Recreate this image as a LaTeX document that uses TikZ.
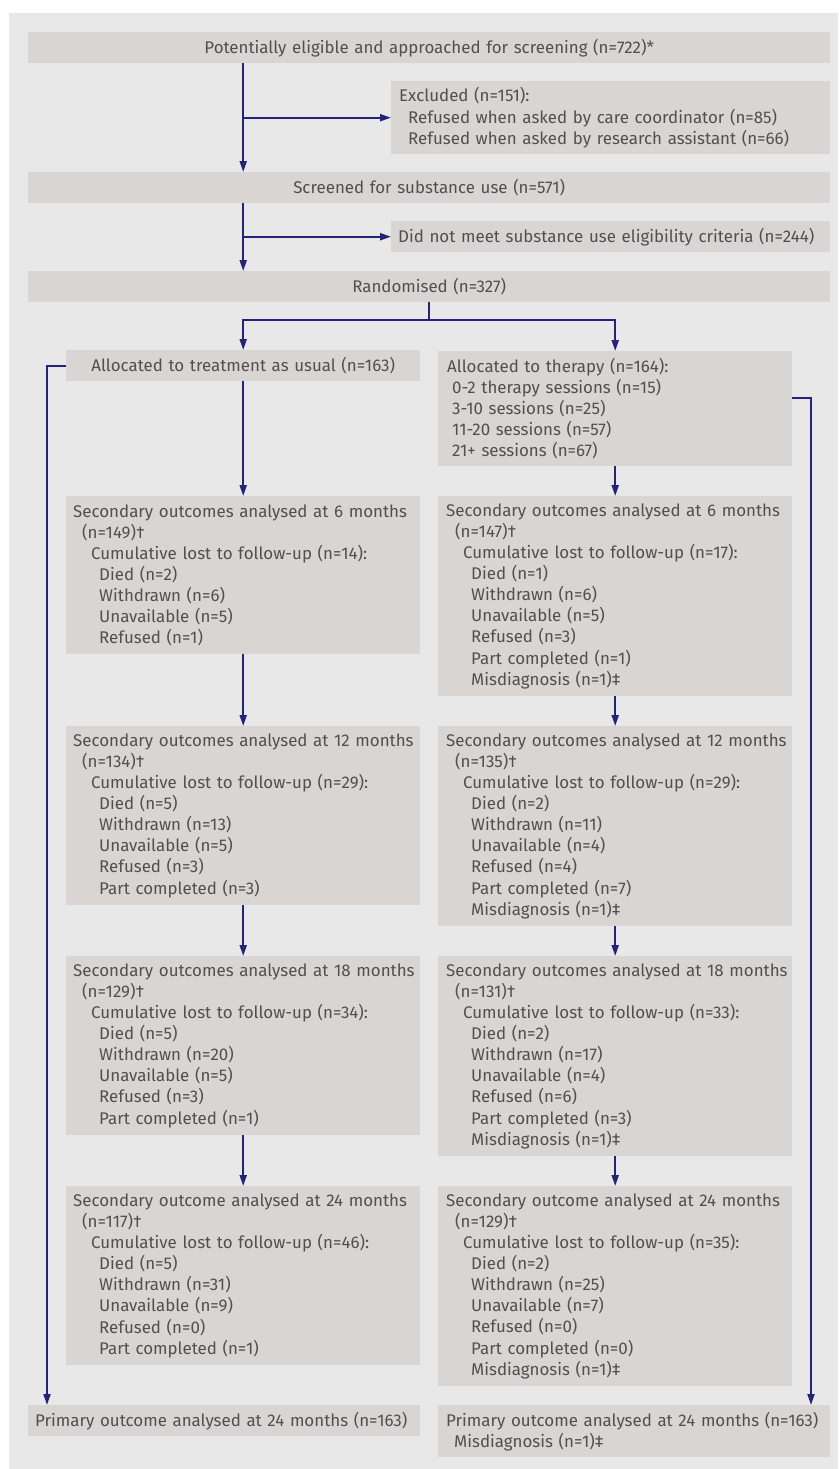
\documentclass[tikz,border=0pt]{standalone}
\usepackage{fontspec}
\setmainfont{Fira Sans}
\usetikzlibrary{arrows.meta,calc}
\definecolor{panel}{RGB}{232,232,232}
\definecolor{boxfill}{RGB}{217,213,210}
\definecolor{txt}{RGB}{80,80,80}
\definecolor{navy}{RGB}{35,35,120}
\newcommand\ind[1]{\hspace*{#1pt}}
\hbadness=10000 \hfuzz=20pt
\begin{document}
\begin{tikzpicture}[x=1pt,y=-1pt,
  box/.style={fill=boxfill, inner xsep=7pt, inner ysep=0pt, anchor=north west,
    align=left, text=txt, font=\fontsize{16.9}{21.1}\selectfont},
  cbox/.style={box, align=center},
  line/.style={draw=navy, line width=2pt},
  arr/.style={line, -{Triangle[length=11pt,width=7pt]}}]
\fill[white] (0,0) rectangle (838,1469);
\fill[panel] (9,13) rectangle (838,1469);
\useasboundingbox (0,0) rectangle (838,1469);
% top rows
\node[cbox, text width=788pt, minimum height=31pt] (top) at (28,32) {Potentially eligible and approached for screening (n=722)*};
\node[box, minimum height=73pt, inner xsep=8pt, text width=423pt] (excl) at (391,81) {Excluded (n=151):\\\ind{9}Refused when asked by care coordinator (n=85)\\\ind{9}Refused when asked by research assistant (n=66)};
\node[cbox, text width=788pt, minimum height=31pt] (screen) at (28,172) {Screened for substance use (n=571)};
\node[box, inner xsep=7pt, text width=425pt, minimum height=31pt] (dnm) at (391,221) {Did not meet substance use eligibility criteria (n=244)};
\node[cbox, text width=788pt, minimum height=31pt] (rand) at (28,271) {Randomised (n=327)};
% allocation
\node[cbox, text width=340pt, minimum height=31pt] (tau) at (66,350) {Allocated to treatment as usual (n=163)};
\node[box, inner xsep=9pt, text width=336pt, minimum height=115pt] (ther) at (438,351) {Allocated to therapy (n=164):\\\ind{5}0-2 therapy sessions (n=15)\\\ind{5}3-10 sessions (n=25)\\\ind{5}11-20 sessions (n=57)\\\ind{5}21+ sessions (n=67)};
% left column
\node[box, text width=340pt, minimum height=158pt] (L6) at (66,496) {\mbox{Secondary outcomes analysed at 6 months}\\\ind{9}(n=149)\textdagger\\\ind{18}Cumulative lost to follow-up (n=14):\\\ind{26}Died (n=2)\\\ind{26}Withdrawn (n=6)\\\ind{26}Unavailable (n=5)\\\ind{26}Refused (n=1)};
\node[box, text width=340pt, minimum height=179pt] (L12) at (66,726) {\mbox{Secondary outcomes analysed at 12 months}\\\ind{9}(n=134)\textdagger\\\ind{18}Cumulative lost to follow-up (n=29):\\\ind{26}Died (n=5)\\\ind{26}Withdrawn (n=13)\\\ind{26}Unavailable (n=5)\\\ind{26}Refused (n=3)\\\ind{26}Part completed (n=3)};
\node[box, text width=340pt, minimum height=179pt] (L18) at (66,956) {\mbox{Secondary outcomes analysed at 18 months}\\\ind{9}(n=129)\textdagger\\\ind{18}Cumulative lost to follow-up (n=34):\\\ind{26}Died (n=5)\\\ind{26}Withdrawn (n=20)\\\ind{26}Unavailable (n=5)\\\ind{26}Refused (n=3)\\\ind{26}Part completed (n=1)};
\node[box, text width=340pt, minimum height=179pt] (L24) at (66,1186) {\mbox{Secondary outcome analysed at 24 months}\\\ind{9}(n=117)\textdagger\\\ind{18}Cumulative lost to follow-up (n=46):\\\ind{26}Died (n=5)\\\ind{26}Withdrawn (n=31)\\\ind{26}Unavailable (n=9)\\\ind{26}Refused (n=0)\\\ind{26}Part completed (n=1)};
\node[box, text width=378pt, minimum height=31pt] (PL) at (28,1405) {Primary outcome analysed at 24 months (n=163)};
% right column
\node[box, inner xsep=8pt, text width=338pt, minimum height=200pt] (R6) at (438,496) {\mbox{Secondary outcomes analysed at 6 months}\\\ind{9}(n=147)\textdagger\\\ind{17}Cumulative lost to follow-up (n=17):\\\ind{25}Died (n=1)\\\ind{25}Withdrawn (n=6)\\\ind{25}Unavailable (n=5)\\\ind{25}Refused (n=3)\\\ind{25}Part completed (n=1)\\\ind{25}Misdiagnosis (n=1)\textdaggerdbl};
\node[box, inner xsep=8pt, text width=338pt, minimum height=200pt] (R12) at (438,726) {\mbox{Secondary outcomes analysed at 12 months}\\\ind{9}(n=135)\textdagger\\\ind{17}Cumulative lost to follow-up (n=29):\\\ind{25}Died (n=2)\\\ind{25}Withdrawn (n=11)\\\ind{25}Unavailable (n=4)\\\ind{25}Refused (n=4)\\\ind{25}Part completed (n=7)\\\ind{25}Misdiagnosis (n=1)\textdaggerdbl};
\node[box, inner xsep=8pt, text width=338pt, minimum height=200pt] (R18) at (438,956) {\mbox{Secondary outcomes analysed at 18 months}\\\ind{9}(n=131)\textdagger\\\ind{17}Cumulative lost to follow-up (n=33):\\\ind{25}Died (n=2)\\\ind{25}Withdrawn (n=17)\\\ind{25}Unavailable (n=4)\\\ind{25}Refused (n=6)\\\ind{25}Part completed (n=3)\\\ind{25}Misdiagnosis (n=1)\textdaggerdbl};
\node[box, inner xsep=8pt, text width=338pt, minimum height=200pt] (R24) at (438,1186) {\mbox{Secondary outcome analysed at 24 months}\\\ind{9}(n=129)\textdagger\\\ind{17}Cumulative lost to follow-up (n=35):\\\ind{25}Died (n=2)\\\ind{25}Withdrawn (n=25)\\\ind{25}Unavailable (n=7)\\\ind{25}Refused (n=0)\\\ind{25}Part completed (n=0)\\\ind{25}Misdiagnosis (n=1)\textdaggerdbl};
\node[box, inner xsep=8pt, text width=376pt, minimum height=52pt] (PR) at (438,1405) {Primary outcome analysed at 24 months (n=163)\\\ind{8}Misdiagnosis (n=1)\textdaggerdbl};
% connectors
\draw[arr] (top.south -| tau) -- (screen.north -| tau);
\draw[arr] (excl.west -| tau) -- (excl.west);
\draw[arr] (screen.south -| tau) -- (rand.north -| tau);
\draw[arr] (dnm.west -| tau) -- (dnm.west);
\coordinate (sp) at ([yshift=-18pt]rand.south);
\draw[line] (rand.south) -- (sp);
\draw[arr] (sp) -| (tau.north);
\draw[arr] (sp) -| (ther.north);
\draw[arr] (tau.south) -- (L6.north);
\draw[arr] (L6.south) -- (L12.north);
\draw[arr] (L12.south) -- (L18.north);
\draw[arr] (L18.south) -- (L24.north);
\draw[arr] (ther.south) -- (R6.north);
\draw[arr] (R6.south) -- (R12.north);
\draw[arr] (R12.south) -- (R18.north);
\draw[arr] (R18.south) -- (R24.north);
\coordinate (lx) at (47,0);
\draw[arr] (tau.west) -- (tau.west -| lx) -- (PL.north -| lx);
\coordinate (rx) at (811,0);
\coordinate (rtap) at ([yshift=-47pt]ther.north east);
\draw[arr] (rtap) -- (rtap -| rx) -- (PR.north -| rx);
\end{tikzpicture}
\end{document}
